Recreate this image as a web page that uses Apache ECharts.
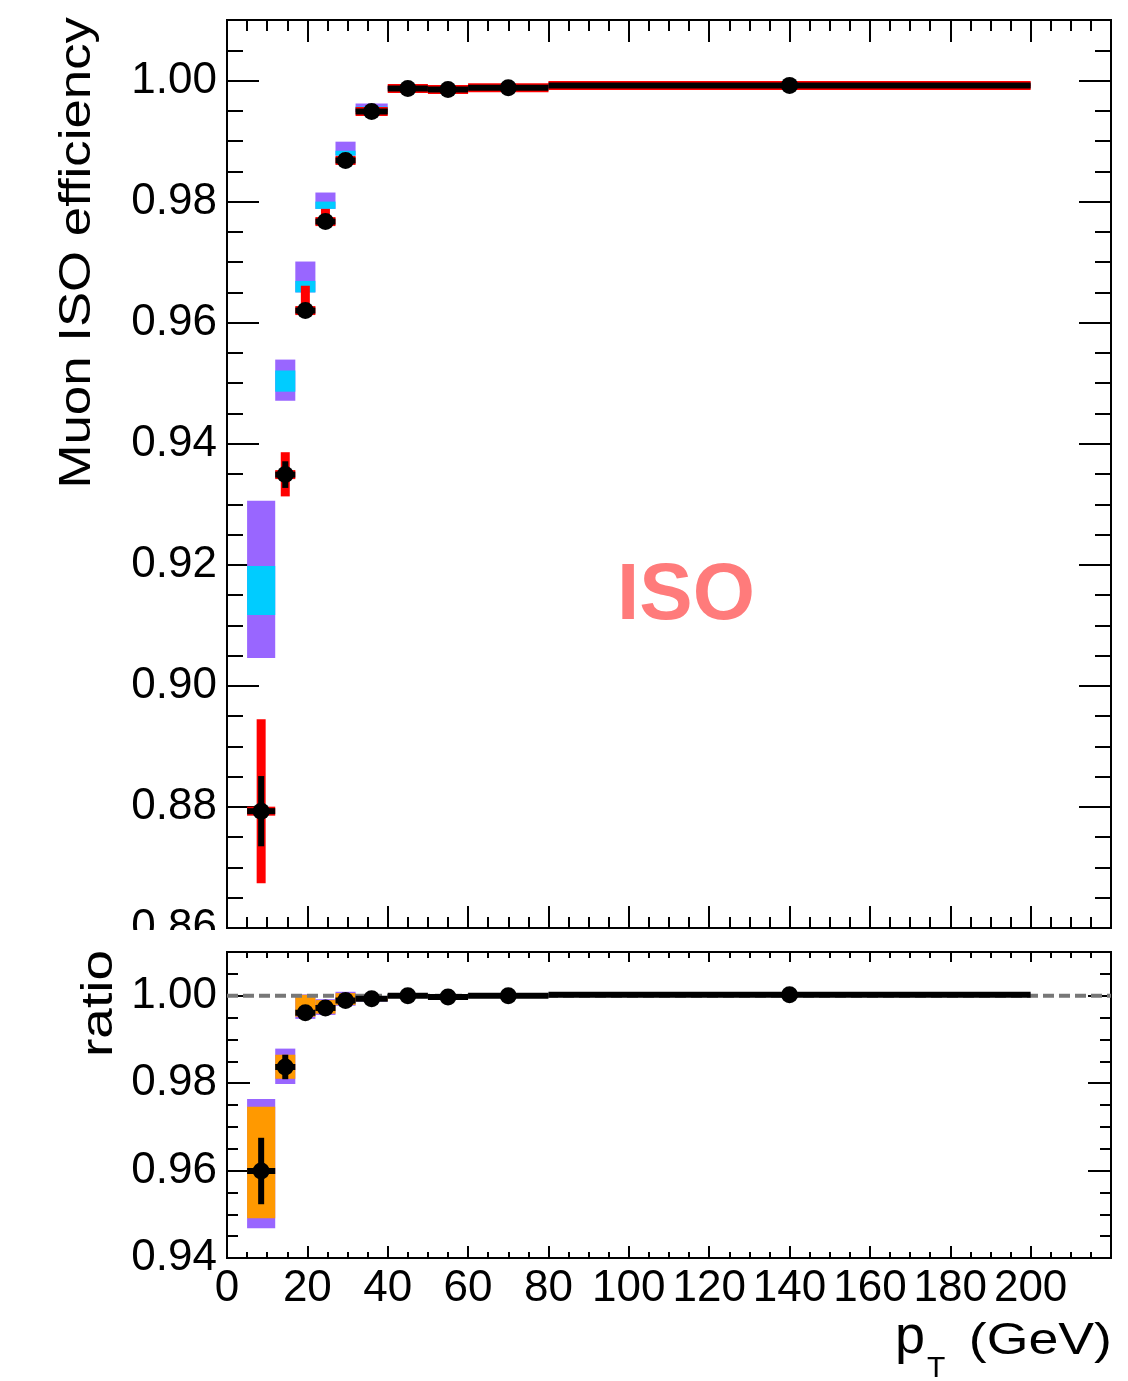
<!DOCTYPE html>
<html>
<head>
<meta charset="utf-8">
<script src="https://cdn.jsdelivr.net/npm/echarts@6/dist/echarts.min.js"></script>
<style>
  html, body { margin: 0; padding: 0; background: #fff; }
  #main { width: 1128px; height: 1381px; }
</style>
</head>
<body>
<div id="main"></div>
<script>
// pt bins (GeV)
var binLow = [5, 12, 17, 22, 27, 32, 40, 50, 60, 80];
var binHigh = [12, 17, 22, 27, 32, 40, 50, 60, 80, 200];
var ptCenter = [8.5, 14.5, 19.5, 24.5, 29.5, 36, 45, 55, 70, 140];

// data efficiency, stat error, total error (up / down)
var dataEff = [0.8793, 0.9349, 0.9620, 0.9767, 0.9868, 0.9949, 0.9987, 0.9985, 0.9988, 0.9992];
var dataStatErr = [0.0058, 0.0022, 0.0007, 0.0005, 0.0004, 0.0003, 0.0002, 0.0002, 0.0002, 0.0001];
var dataTotUp = [0.0152, 0.0037, 0.0041, 0.0021, 0.0012, 0.0006, 0.0004, 0.0004, 0.0004, 0.0003];
var dataTotDown = [0.0119, 0.0036, 0.0010, 0.0008, 0.0006, 0.0004, 0.0004, 0.0004, 0.0004, 0.0003];

// simulation bands (purple = total, cyan = stat)
var mcOuterLow = [0.9046, 0.9471, 0.9650, 0.9788, 0.9876, 0.9948, 0.9985, 0.9983, 0.9986, 0.9990];
var mcOuterHigh = [0.9306, 0.9539, 0.9701, 0.9815, 0.9899, 0.9962, 0.9991, 0.9989, 0.9991, 0.9994];
var mcInnerLow = [0.9117, 0.9486, 0.9650, 0.9788, 0.9876, 0.9948, 0.9986, 0.9984, 0.9987, 0.9991];
var mcInnerHigh = [0.9198, 0.9521, 0.9669, 0.9800, 0.9884, 0.9957, 0.9990, 0.9988, 0.9990, 0.9993];

// ratio panel
var ratioVal = [0.9599, 0.9837, 0.9961, 0.9972, 0.9989, 0.9993, 1.0000, 0.9997, 1.0000, 1.0002];
var ratioErr = [0.0076, 0.0028, 0.0006, 0.0005, 0.0004, 0.0003, 0.0003, 0.0003, 0.0002, 0.0002];
var sfOuterLow = [0.9468, 0.9798, 0.9947, 0.9956, 0.9977, 0.9987, 0.9996, 0.9993, 0.9997, 0.9999];
var sfOuterHigh = [0.9764, 0.9879, 1.0003, 0.9992, 1.0009, 0.9999, 1.0004, 1.0001, 1.0003, 1.0005];
var sfInnerLow = [0.9491, 0.9810, 0.9952, 0.9959, 0.9979, 0.9988, 0.9997, 0.9994, 0.9998, 1.0000];
var sfInnerHigh = [0.9746, 0.9865, 1.0002, 0.9990, 1.0006, 0.9998, 1.0003, 1.0000, 1.0002, 1.0004];

var FONT = '"Liberation Sans", Arial, sans-serif';

function boxData(lo, hi) {
    return binLow.map(function (b, i) { return [b, binHigh[i], lo[i], hi[i]]; });
}
function errData(val, up, down) {
    return binLow.map(function (b, i) { return [b, binHigh[i], ptCenter[i], val[i], up[i], down[i]]; });
}

function boxSeries(grid, lo, hi, color) {
    return {
        type: 'custom', xAxisIndex: grid * 4, yAxisIndex: grid * 4, z: 2, silent: true,
        data: boxData(lo, hi),
        renderItem: function (params, api) {
            var p1 = api.coord([api.value(0), api.value(3)]);
            var p2 = api.coord([api.value(1), api.value(2)]);
            return {
                type: 'rect',
                shape: { x: p1[0], y: p1[1], width: p2[0] - p1[0], height: p2[1] - p1[1] },
                style: { fill: color }
            };
        }
    };
}

function errSeries(grid, val, up, down, color, w, z) {
    return {
        type: 'custom', xAxisIndex: grid * 4, yAxisIndex: grid * 4, z: z, silent: true,
        data: errData(val, up, down),
        renderItem: function (params, api) {
            var y = api.value(3);
            var a = api.coord([api.value(0), y]);
            var b = api.coord([api.value(1), y]);
            var c = api.coord([api.value(2), y + api.value(4)]);
            var d = api.coord([api.value(2), y - api.value(5)]);
            var st = { stroke: color, lineWidth: w, lineCap: 'butt' };
            return {
                type: 'group',
                children: [
                    { type: 'line', shape: { x1: a[0], y1: a[1], x2: b[0], y2: b[1] }, style: st },
                    { type: 'line', shape: { x1: c[0], y1: c[1], x2: d[0], y2: d[1] }, style: st }
                ]
            };
        }
    };
}

function xAx(grid, pos, step, len, labels) {
    return {
        type: 'value', gridIndex: grid, position: pos, min: 0, max: 220, interval: step,
        axisLine: { show: false, onZero: false },
        splitLine: { show: false },
        axisTick: { show: true, inside: true, length: len, lineStyle: { color: '#000', width: 2 } },
        axisLabel: labels ? {
            show: true, color: '#000', fontSize: 44, fontFamily: FONT, margin: 9,
            formatter: function (v) { return v > 200 ? '' : String(v); }
        } : { show: false }
    };
}

function yAx(grid, pos, min, max, step, len, labels) {
    return {
        type: 'value', gridIndex: grid, position: pos, min: min, max: max, interval: step,
        axisLine: { show: false, onZero: false },
        splitLine: { show: false },
        axisTick: { show: true, inside: true, length: len, lineStyle: { color: '#000', width: 2 } },
        axisLabel: labels ? {
            show: true, color: '#000', fontSize: 44, fontFamily: FONT, margin: 10,
            formatter: function (v) { return v > 1.0001 ? '' : v.toFixed(2); }
        } : { show: false }
    };
}

var myChart = echarts.init(document.getElementById('main'), null, { renderer: 'canvas' });

var option = {
    animation: false,
    backgroundColor: '#fff',
    grid: [
        { left: 227, top: 20, width: 884, height: 908, show: true, borderColor: '#000', borderWidth: 2, backgroundColor: 'transparent' },
        { left: 227, top: 952, width: 884, height: 306, show: true, borderColor: '#000', borderWidth: 2, backgroundColor: 'transparent' }
    ],
    xAxis: [
        xAx(0, 'bottom', 20, 22, false),
        xAx(0, 'bottom', 5, 11, false),
        xAx(0, 'top', 20, 22, false),
        xAx(0, 'top', 5, 11, false),
        xAx(1, 'bottom', 20, 12, true),
        xAx(1, 'bottom', 5, 6, false),
        xAx(1, 'top', 20, 10, false),
        xAx(1, 'top', 5, 6, false)
    ],
    yAxis: [
        yAx(0, 'left', 0.86, 1.01, 0.02, 32, true),
        yAx(0, 'left', 0.86, 1.01, 0.005, 16, false),
        yAx(0, 'right', 0.86, 1.01, 0.02, 32, false),
        yAx(0, 'right', 0.86, 1.01, 0.005, 16, false),
        yAx(1, 'left', 0.94, 1.01, 0.02, 23, true),
        yAx(1, 'left', 0.94, 1.01, 0.005, 11, false),
        yAx(1, 'right', 0.94, 1.01, 0.02, 23, false),
        yAx(1, 'right', 0.94, 1.01, 0.005, 11, false)
    ],
    series: [
        // efficiency panel
        boxSeries(0, mcOuterLow, mcOuterHigh, '#9966ff'),
        boxSeries(0, mcInnerLow, mcInnerHigh, '#00ccff'),
        errSeries(0, dataEff, dataTotUp, dataTotDown, '#ff0000', 9, 3),
        errSeries(0, dataEff, dataStatErr, dataStatErr, '#000000', 6, 4),
        {
            type: 'scatter', xAxisIndex: 0, yAxisIndex: 0, z: 5, silent: true,
            symbol: 'circle', symbolSize: 17, itemStyle: { color: '#000', opacity: 1 },
            data: ptCenter.map(function (x, i) { return [x, dataEff[i]]; })
        },
        // ratio panel
        boxSeries(1, sfOuterLow, sfOuterHigh, '#9966ff'),
        boxSeries(1, sfInnerLow, sfInnerHigh, '#ff9900'),
        {
            type: 'line', xAxisIndex: 4, yAxisIndex: 4, z: 3, silent: true,
            symbol: 'none', data: [[0, 1], [220, 1]],
            lineStyle: { color: '#777', width: 4, type: [11, 5] }
        },
        errSeries(1, ratioVal, ratioErr, ratioErr, '#000000', 6, 4),
        {
            type: 'scatter', xAxisIndex: 4, yAxisIndex: 4, z: 5, silent: true,
            symbol: 'circle', symbolSize: 17, itemStyle: { color: '#000', opacity: 1 },
            data: ptCenter.map(function (x, i) { return [x, ratioVal[i]]; })
        }
    ],
    graphic: [
        { type: 'rect', z: 100, shape: { x: 0, y: 930, width: 225, height: 21 }, style: { fill: '#fff' } },
        {
            type: 'text', z: 101, x: 78, y: 17, rotation: Math.PI / 2, scaleX: 1.2,
            style: { text: 'Muon ISO efficiency', font: '44px ' + FONT, fill: '#000', align: 'right', verticalAlign: 'middle' }
        },
        {
            type: 'text', z: 101, x: 100, y: 950, rotation: Math.PI / 2, scaleX: 1.25,
            style: { text: 'ratio', font: '44px ' + FONT, fill: '#000', align: 'right', verticalAlign: 'middle' }
        },
        {
            type: 'text', z: 101, x: 686, y: 597,
            style: { text: 'ISO', font: 'bold 80px ' + FONT, fill: '#ff7b7b', align: 'center', verticalAlign: 'middle' }
        },
        {
            type: 'text', z: 101, x: 1112, y: 1342, scaleX: 1.22,
            style: { text: '(GeV)', font: '44px ' + FONT, fill: '#000', align: 'right', verticalAlign: 'middle' }
        },
        {
            type: 'text', z: 101, x: 895, y: 1338,
            style: { text: 'p', font: '54px ' + FONT, fill: '#000', align: 'left', verticalAlign: 'middle' }
        },
        {
            type: 'text', z: 101, x: 927, y: 1369,
            style: { text: 'T', font: '30px ' + FONT, fill: '#000', align: 'left', verticalAlign: 'middle' }
        }
    ]
};

myChart.setOption(option);
</script>
</body>
</html>
